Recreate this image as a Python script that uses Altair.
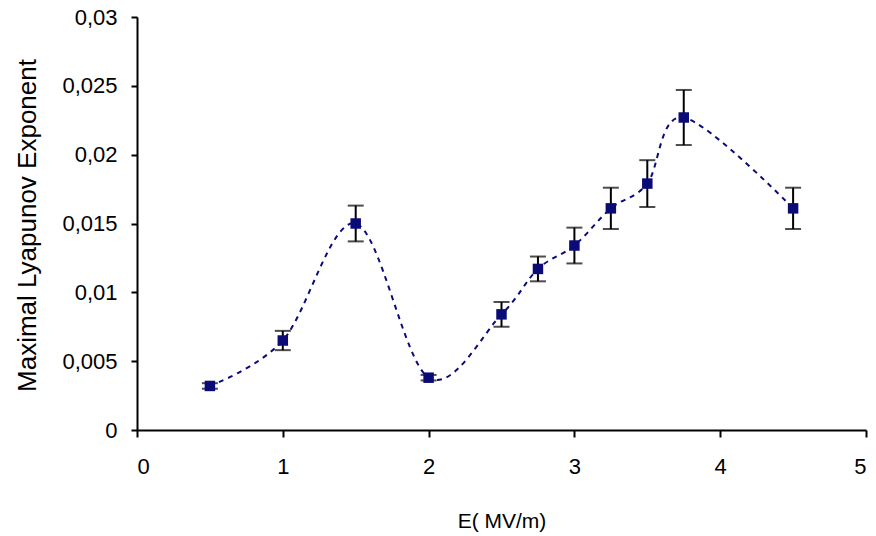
import altair as alt
import pandas as pd

# Data
E_field = [0.5, 1.0, 1.5, 2.0, 2.5, 2.75, 3.0, 3.25, 3.5, 3.75, 4.5]
lyapunov = [0.0032, 0.0065, 0.0150, 0.0038, 0.0084, 0.0117, 0.0134, 0.0161, 0.0179, 0.0227, 0.0161]
error = [0.0002, 0.0007, 0.0013, 0.0002, 0.0009, 0.0009, 0.0013, 0.0015, 0.0017, 0.0020, 0.0015]

x_ticks = [0, 1, 2, 3, 4, 5]
y_ticks = [0, 0.005, 0.01, 0.015, 0.02, 0.025, 0.03]

df = pd.DataFrame({"E": E_field, "L": lyapunov, "err": error})
df["lo"] = df["L"] - df["err"]
df["hi"] = df["L"] + df["err"]

FONT = "Liberation Sans"
NAVY = "#0b0b78"

x_enc = alt.X(
    "E:Q",
    scale=alt.Scale(domain=[0, 5], nice=False, zero=False),
    axis=alt.Axis(
        values=x_ticks, format="d", title="E( MV/m)", grid=False,
        domainColor="black", domainWidth=2, tickColor="black", tickWidth=2, tickSize=7,
        labelFont=FONT, labelFontSize=22, labelColor="black", labelPadding=19,
        titleFont=FONT, titleFontSize=21, titleFontWeight="normal", titleColor="black",
        titleBaseline="alphabetic", titleY=97,
    ),
)
y_enc = alt.Y(
    "L:Q",
    scale=alt.Scale(domain=[0, 0.03], nice=False),
    axis=alt.Axis(
        values=y_ticks, title="Maximal Lyapunov Exponent", grid=False,
        labelExpr="replace(format(datum.value, '~g'), '.', ',')",
        domainColor="black", domainWidth=2, tickColor="black", tickWidth=2, tickSize=6,
        labelFont=FONT, labelFontSize=22, labelColor="black", labelPadding=14,
        titleFont=FONT, titleFontSize=26, titleFontWeight="normal", titleColor="black",
        titleAngle=-90, titleBaseline="middle", titleAlign="center",
        titleX=-110, titleY=208,
    ),
)

base = alt.Chart(df)

line = base.mark_line(
    interpolate="cardinal", color=NAVY, strokeWidth=2, strokeDash=[5, 5]
).encode(x=x_enc, y=y_enc)

bars = base.mark_rule(color="black", strokeWidth=2).encode(
    x="E:Q", y="lo:Q", y2="hi:Q"
)
caps_lo = base.mark_tick(color="black", orient="horizontal", size=16, thickness=2).encode(
    x="E:Q", y="lo:Q"
)
caps_hi = base.mark_tick(color="black", orient="horizontal", size=16, thickness=2).encode(
    x="E:Q", y="hi:Q"
)
points = base.mark_point(
    shape="square", filled=True, size=110, color=NAVY, opacity=1
).encode(x="E:Q", y="L:Q")

chart = (
    alt.layer(line, bars, caps_lo, caps_hi, points)
    .properties(
        width=729, height=413,
        autosize=alt.AutoSizeParams(type="none"),
        padding={"left": 137, "top": 17, "right": 10, "bottom": 106},
        background="white",
    )
    .configure_view(stroke=None)
)

chart.save("out.html", embed_options={"renderer": "svg", "actions": False})
